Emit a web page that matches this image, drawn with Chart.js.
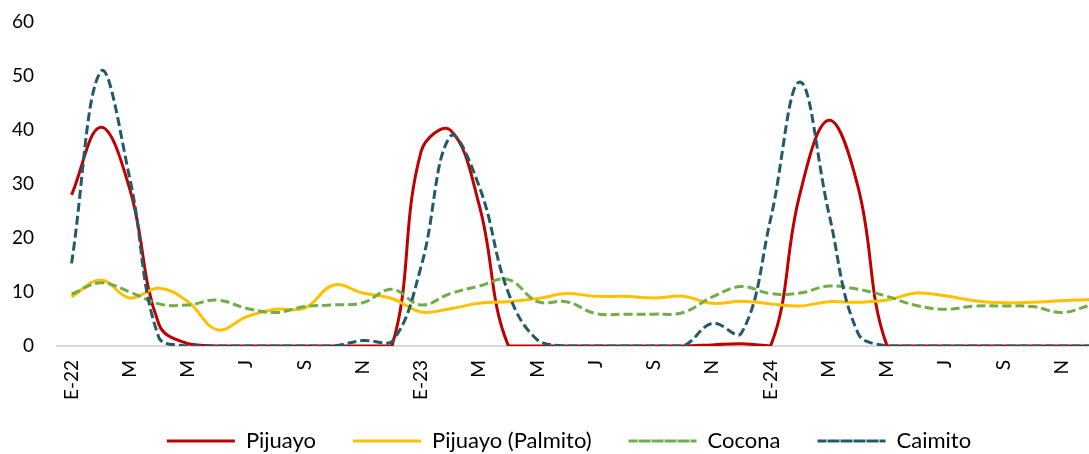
<!DOCTYPE html>
<html>
<head>
<meta charset="utf-8">
<script src="https://cdn.jsdelivr.net/npm/chart.js@4"></script>
<style>
  html, body { margin: 0; padding: 0; background: #fff; overflow: hidden; }
  #wrap { position: relative; width: 1128px; height: 454px; }
</style>
</head>
<body>
<div id="wrap"><canvas id="chart"></canvas></div>
<script>
// meses ene-22 .. dic-24, solo se rotula uno de cada dos
const meses = [
  'E-22', '', 'M', '', 'M', '', 'J', '', 'S', '', 'N', '',
  'E-23', '', 'M', '', 'M', '', 'J', '', 'S', '', 'N', '',
  'E-24', '', 'M', '', 'M', '', 'J', '', 'S', '', 'N', ''
];

const pijuayo = [
  28, 40.5, 29, 4, 0.4, 0, 0, 0, 0, 0, 0, 0,
  36, 40, 26, 0, 0, 0, 0, 0, 0, 0, 0.2, 0.4,
  0, 28, 41.8, 29.5, 0, 0, 0, 0, 0, 0, 0, 0
];
const palmito = [
  9.1, 12.2, 8.9, 10.7, 8.2, 3, 5.4, 6.8, 7, 11.3, 9.8, 8.8,
  6.3, 6.9, 7.9, 8.2, 8.8, 9.7, 9.2, 9.2, 8.9, 9.2, 7.9, 8.3,
  7.8, 7.4, 8.2, 8.1, 8.5, 9.8, 9.3, 8.4, 8, 8.1, 8.4, 8.6
];
const cocona = [
  9.6, 11.7, 10, 7.8, 7.6, 8.5, 7, 6.2, 7.3, 7.6, 8, 10.5,
  7.6, 9.7, 11.1, 12.3, 8.2, 8.2, 6, 5.9, 5.9, 6.2, 9.1, 11,
  9.7, 9.8, 11.1, 10.5, 9.2, 7.5, 6.8, 7.4, 7.4, 7.3, 6.2, 7.6
];
const caimito = [
  15.3, 50.8, 31, 1.5, 0, 0, 0, 0, 0, 0, 1, 0.8,
  14.7, 38.8, 29.5, 9.8, 1.1, 0, 0, 0, 0, 0, 4.2, 2.4,
  23.5, 48.9, 24.6, 2.4, 0, 0, 0, 0, 0, 0, 0, 0
];

const fuente = 'Lato, "Open Sans", sans-serif';

function serie(label, data, color, dash, order) {
    return {
        label: label,
        data: data,
        borderColor: color,
        backgroundColor: 'rgba(0,0,0,0)',
        borderWidth: 3,
        borderDash: dash,
        tension: 0.4,
        pointRadius: 0,
        pointHoverRadius: 0,
        order: order
    };
}

// mueve la leyenda unos px despues del layout
const moverLeyenda = {
    id: 'moverLeyenda',
    afterLayout(chart) {
        const lg = chart.legend;
        if (lg) {
            lg.top -= 11;
            lg.bottom -= 11;
            lg.left += 13;
            lg.right += 13;
        }
    }
};

const ctx = document.getElementById('chart').getContext('2d');
new Chart(ctx, {
    type: 'line',
    data: {
        labels: meses,
        datasets: [
            serie('Pijuayo', pijuayo, '#c00000', [], 4),
            serie('Pijuayo (Palmito)', palmito, '#ffc000', [], 3),
            serie('Cocona', cocona, '#70ad47', [9, 4], 2),
            serie('Caimito', caimito, '#215a68', [9, 4], 1)
        ]
    },
    plugins: [moverLeyenda],
    options: {
        responsive: true,
        maintainAspectRatio: false,
        animation: false,
        layout: { padding: { top: 22, right: 16, left: 0, bottom: -19 } },
        plugins: {
            tooltip: { enabled: false },
            legend: {
                position: 'bottom',
                labels: {
                    sort: (a, b) => a.datasetIndex - b.datasetIndex,
                    boxWidth: 68,
                    boxHeight: 0,
                    padding: 37,
                    color: '#000',
                    font: { family: fuente, size: 22 }
                }
            }
        },
        scales: {
            x: {
                offset: true,
                grid: { display: false, drawTicks: false, offset: true },
                border: { color: '#d9d9d9', width: 2 },
                ticks: {
                    autoSkip: false,
                    maxRotation: 90,
                    minRotation: 90,
                    padding: 14,
                    color: '#000',
                    font: { family: fuente, size: 19 }
                },
                afterFit: function(scale) { scale.height = 58; }
            },
            y: {
                min: 0,
                max: 60,
                grid: { display: false, drawTicks: false },
                border: { display: false },
                ticks: {
                    stepSize: 10,
                    padding: 23,
                    color: '#000',
                    font: { family: fuente, size: 19 }
                },
                afterFit: function(scale) {
                    scale.width = 57;
                    scale.paddingTop = 0;
                    scale.paddingBottom = 0;
                }
            }
        }
    }
});
</script>
</body>
</html>
